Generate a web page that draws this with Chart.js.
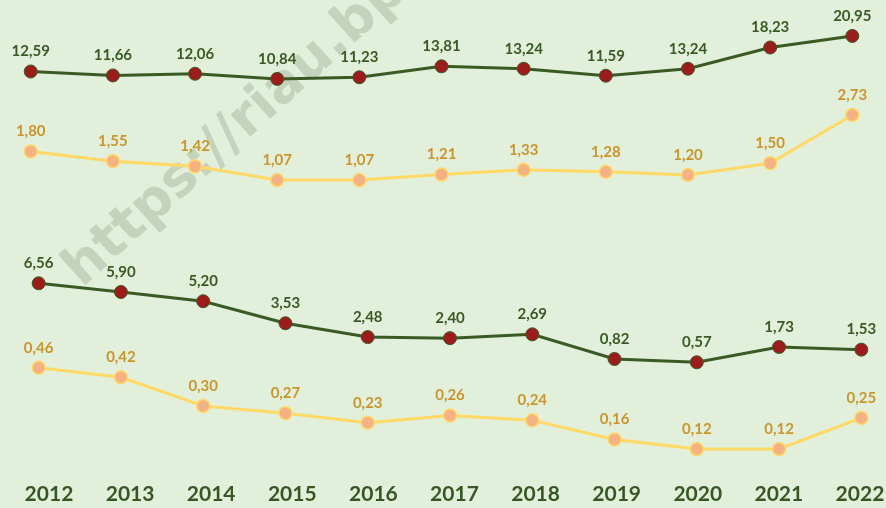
<!DOCTYPE html>
<html>
<head>
<meta charset="utf-8">
<script src="https://cdn.jsdelivr.net/npm/chart.js@4.4.1/dist/chart.umd.min.js"></script>
<style>
  html, body { margin: 0; padding: 0; background: #e2efda; }
  #wrap { position: relative; width: 886px; height: 508px; }
</style>
</head>
<body>
<div id="wrap"><canvas id="chart"></canvas></div>
<script>
/* ── data ── */
const years = [2012, 2013, 2014, 2015, 2016, 2017, 2018, 2019, 2020, 2021, 2022];
const topGreen = [12.59, 11.66, 12.06, 10.84, 11.23, 13.81, 13.24, 11.59, 13.24, 18.23, 20.95];
const topYellow = [1.80, 1.55, 1.42, 1.07, 1.07, 1.21, 1.33, 1.28, 1.20, 1.50, 2.73];
const bottomGreen = [6.56, 5.90, 5.20, 3.53, 2.48, 2.40, 2.69, 0.82, 0.57, 1.73, 1.53];
const bottomYellow = [0.46, 0.42, 0.30, 0.27, 0.23, 0.26, 0.24, 0.16, 0.12, 0.12, 0.25];

const GREEN = "#3a5a24";
const RED = "#9c1c1c";
const YELLOW = "#ffd966";
const PEACH = "#f4b183";
const GOLD = "#c9952f";

const toPoints = vals => vals.map((v, i) => ({ x: years[i], y: v }));

function greenSet(vals, xId, yId) {
  return {
    data: toPoints(vals), xAxisID: xId, yAxisID: yId,
    borderColor: GREEN, borderWidth: 3,
    pointBackgroundColor: RED, pointBorderColor: GREEN, pointBorderWidth: 1,
    pointRadius: 6.5, tension: 0, clip: false,
    labelColor: GREEN
  };
}
function yellowSet(vals, xId, yId) {
  return {
    data: toPoints(vals), xAxisID: xId, yAxisID: yId,
    borderColor: YELLOW, borderWidth: 3,
    pointBackgroundColor: PEACH, pointBorderColor: YELLOW, pointBorderWidth: 1.5,
    pointRadius: 6.5, tension: 0, clip: false,
    labelColor: GOLD
  };
}

/* ── labels above points ── */
const valueLabels = {
  id: "valueLabels",
  afterDatasetsDraw(chart) {
    const ctx = chart.ctx;
    ctx.save();
    ctx.font = "bold 15px Lato";
    ctx.textAlign = "center";
    ctx.textBaseline = "middle";
    chart.data.datasets.forEach((ds, i) => {
      ctx.fillStyle = ds.labelColor;
      chart.getDatasetMeta(i).data.forEach((pt, j) => {
        const txt = ds.data[j].y.toFixed(2).replace(".", ",");
        ctx.fillText(txt, pt.x, pt.y - 20);
      });
    });
    ctx.restore();
  }
};

/* ── watermark ── */
const watermark = {
  id: "watermark",
  beforeDatasetsDraw(chart) {
    const ctx = chart.ctx;
    ctx.save();
    ctx.translate(82, 288);
    ctx.rotate(-42 * Math.PI / 180);
    ctx.font = "bold 54px 'DejaVu Sans'";
    ctx.fillStyle = "rgba(120,140,110,0.28)";
    ctx.textBaseline = "alphabetic";
    ctx.fillText("https://riau.bps.go.id", 0, 0);
    ctx.restore();
  }
};

const hidden = (min, max) => ({ type: "linear", display: false, min, max });

new Chart(document.getElementById("chart"), {
  type: "line",
  data: {
    datasets: [
      greenSet(topGreen, "xTop", "yTopG"),
      yellowSet(topYellow, "xTop", "yTopY"),
      greenSet(bottomGreen, "xBot", "yBotG"),
      yellowSet(bottomYellow, "xBot", "yBotY")
    ]
  },
  options: {
    responsive: true,
    maintainAspectRatio: false,
    animation: false,
    layout: { padding: 0, autoPadding: false },
    plugins: { legend: { display: false }, tooltip: { enabled: false } },
    scales: {
      xLab: {
        type: "linear", position: "bottom",
        min: 2011.396, max: 2022.321,
        grid: { display: false, drawTicks: false },
        border: { display: false },
        afterFit: s => { s.height = 40; s.paddingLeft = 0; s.paddingRight = 0; },
        afterBuildTicks: s => { s.ticks = years.map(y => ({ value: y })); },
        ticks: {
          padding: 14,
          color: "#375623",
          font: { family: "Lato", size: 21, weight: "bold" },
          callback: v => String(v)
        }
      },
      xTop: hidden(2011.626, 2022.410),
      xBot: hidden(2011.530, 2022.300),
      yTopG: hidden(-80.7, 29.41),
      yTopY: hidden(-6.276, 5.663),
      yBotG: hidden(-7.445, 28.04),
      yBotY: hidden(0.0406, 1.998)
    }
  },
  plugins: [watermark, valueLabels]
});
</script>
</body>
</html>
